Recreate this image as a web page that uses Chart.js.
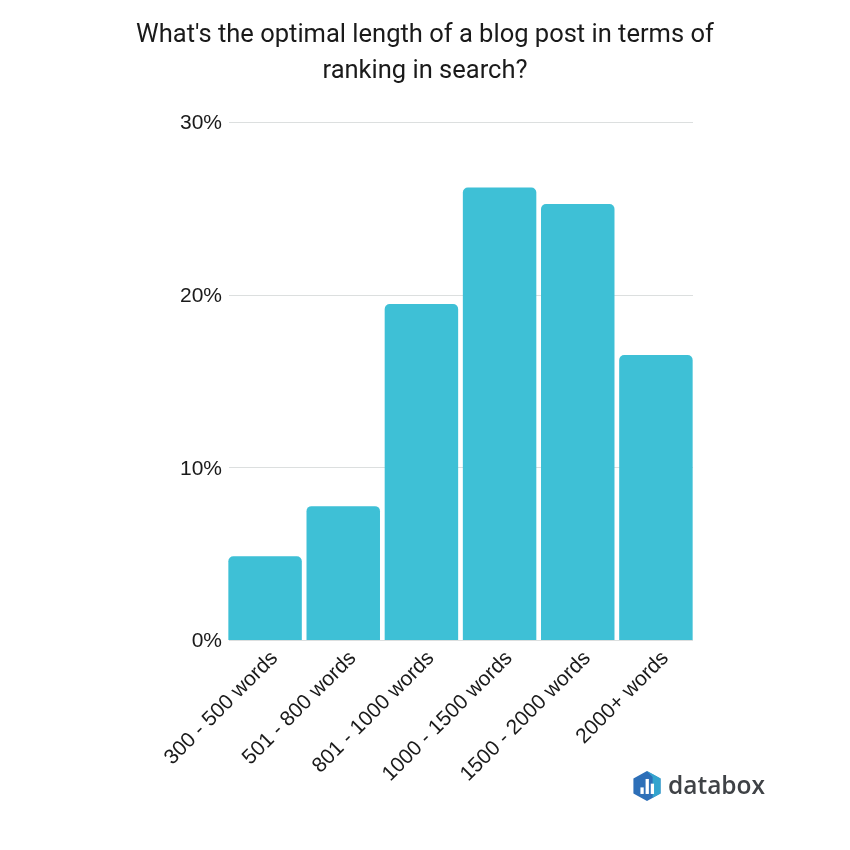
<!DOCTYPE html>
<html><head><meta charset="utf-8">
<style>
html,body{margin:0;padding:0;background:#fff;width:850px;height:850px;overflow:hidden}
#wrap{position:relative;width:850px;height:850px}
#logo{position:absolute;left:632px;top:770px;width:30px;height:32px}
#brand{position:absolute;left:668px;top:766px;font:600 24.5px "Open Sans",sans-serif;color:#3f4246;line-height:38px}
</style>
<script src="https://cdn.jsdelivr.net/npm/chart.js@4"></script>
</head><body>
<div id="wrap">
<canvas id="c" width="850" height="850" style="width:850px;height:850px"></canvas>
<svg id="logo" viewBox="0 0 32 33">
<path d="M16 0.5 L30.5 8.5 V24.5 L16 32.5 L1.5 24.5 V8.5 Z" fill="#2d6fb8"/>
<path d="M16 0.5 L30.5 8.5 V24.5 L22 29 V7 Z" fill="#35b5d6" opacity=".75"/>
<rect x="9" y="18" width="3.5" height="7" fill="#fff"/>
<rect x="14.5" y="9" width="3.5" height="16" fill="#fff"/>
<rect x="20" y="14" width="3.5" height="11" fill="#fff"/>
</svg>
<div id="brand">databox</div>
</div>
<script>
const titleLines = ["What's the optimal length of a blog post in terms of", "ranking in search?"];
const categories = ["300 - 500 words","501 - 800 words","801 - 1000 words","1000 - 1500 words","1500 - 2000 words","2000+ words"];
const shares = [4.85, 7.75, 19.45, 26.2, 25.25, 16.5];
const yTicks = [0, 10, 20, 30];

const inset = 2;
const gridPlugin = {
  id: 'insetGrid',
  afterLayout(chart) {
    chart.titleBlock.left = 0;
    chart.titleBlock.right = 850;
  },
  beforeDatasetsDraw(chart) {
    const {ctx, chartArea, scales} = chart;
    ctx.save();
    ctx.strokeStyle = '#dcdfdf';
    ctx.lineWidth = 1;
    yTicks.forEach(v => {
      const y = Math.round(scales.y.getPixelForValue(v)) + 0.5;
      ctx.beginPath();
      ctx.moveTo(chartArea.left + inset + 1, y);
      ctx.lineTo(chartArea.right - inset, y);
      ctx.stroke();
    });
    ctx.restore();
  }
};

new Chart(document.getElementById('c'), {
  type: 'bar',
  data: { labels: categories, datasets: [{
    data: shares,
    backgroundColor: '#3ec0d6',
    borderRadius: {topLeft: 5, topRight: 5, bottomLeft: 0, bottomRight: 0},
    borderSkipped: false,
    barPercentage: 0.94,
    categoryPercentage: 1
  }]},
  plugins: [gridPlugin],
  options: {
    responsive: false,
    animation: false,
    layout: { padding: { left: 0, right: 155, top: 0, bottom: 0 } },
    plugins: {
      legend: { display: false },
      tooltip: { enabled: false },
      title: {
        display: true,
        text: titleLines,
        color: '#1a1a1a',
        font: { family: 'Roboto', size: 25.5, weight: '400', lineHeight: 1.38 },
        padding: { top: 18.5, bottom: 33 }
      }
    },
    scales: {
      x: {
        grid: { display: false, drawTicks: false },
        border: { display: false },
        afterFit(s) { s.height = 210; },
        ticks: {
          color: '#1a1a1a',
          font: { family: '"Liberation Sans"', size: 21 },
          minRotation: 45, maxRotation: 45,
          autoSkip: false,
          padding: 6,
          labelOffset: 9.5
        }
      },
      y: {
        min: 0, max: 30,
        afterFit(s) { s.width = 226; },
        afterBuildTicks(s) { s.ticks = yTicks.map(v => ({value: v})); },
        grid: { display: false, drawTicks: false },
        border: { display: false },
        ticks: {
          color: '#1a1a1a',
          font: { family: '"Liberation Sans"', size: 21 },
          padding: 4,
          labelOffset: 1.5,
          callback: v => v + '%'
        }
      }
    }
  }
});
</script>
</body></html>
